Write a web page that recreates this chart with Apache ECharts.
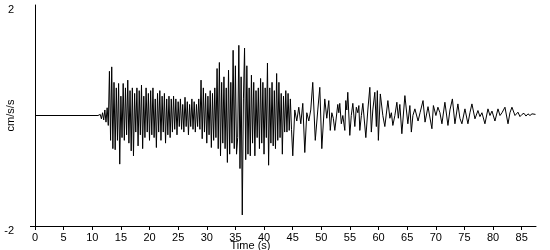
<!DOCTYPE html>
<html>
<head>
<meta charset="utf-8">
<script src="https://cdn.jsdelivr.net/npm/echarts@6/dist/echarts.min.js"></script>
<style>html,body{margin:0;padding:0;background:#fff}#c{width:550px;height:250px}</style>
</head>
<body>
<div id="c"></div>
<script>
// Axis tick labels
var xTicks = [0,5,10,15,20,25,30,35,40,45,50,55,60,65,70,75,80,85];
var yTicks = [-2, 2];

// Quiet pre-event part (time s, value cm/s/s)
var quietTimes = [0];
var quietValues = [0];

// Dense strong-motion part, sampled every 0.2 s from 11.0 s
var denseStart = 11.0;
var denseStep = 0.2;
var denseValues = [
  0, -0.03, 0.02, -0.06, 0.05, -0.08, 0.1, -0.12, 0.14, -0.18,
  0.8, -0.45, 0.88, -0.6, 0.6, -0.62, 0.5, -0.45, 0.58, -0.88,
  0.35, -0.4, 0.58, -0.45, 0.5, -0.35, 0.64, -0.5, 0.45, -0.64,
  0.5, -0.73, 0.4, -0.3, 0.5, -0.55, 0.45, -0.35, 0.55, -0.6,
  0.35, -0.4, 0.5, -0.3, 0.4, -0.45, 0.45, -0.35, 0.5, -0.4,
  0.3, -0.58, 0.4, -0.3, 0.45, -0.45, 0.35, -0.3, 0.4, -0.5,
  0.3, -0.35, 0.35, -0.4, 0.3, -0.3, 0.35, -0.25, 0.3, -0.35,
  0.25, -0.2, 0.3, -0.25, 0.2, -0.3, 0.33, -0.2, 0.25, -0.35,
  0.2, -0.2, 0.3, -0.25, 0.25, -0.3, 0.2, -0.2, 0.3, -0.25,
  0.64, -0.42, 0.5, -0.3, 0.4, -0.5, 0.35, -0.35, 0.45, -0.58,
  0.4, -0.45, 0.5, -0.4, 0.85, -0.6, 0.96, -0.73, 0.6, -0.5,
  0.7, -0.6, 0.5, -0.85, 0.82, -0.7, 0.6, -0.5, 1.18, -0.6,
  0.9, -0.7, -0.4, 1.27, -0.96, 0.7, -1.8, 0.3, 1.22, -0.8,
  0.9, -0.7, 0.5, -0.73, 0.73, -0.5, 0.6, -0.73, 0.45, -0.4,
  0.5, -0.6, 0.67, -0.5, 0.6, -0.7, 0.5, -0.4, 0.95, -0.9,
  0.5, -0.5, 0.6, -0.55, 0.45, -0.6, 0.76, -0.45, 0.6, -0.4,
  0.4, -0.7, 0.35, -0.3, 0.45, -0.3, 0.4, -0.27, 0.3, -0.25
];

// Coda part: peak times (s) and values (cm/s/s)
var codaTimes = [
  45.02, 45.37, 45.72, 46.07, 46.42, 46.77, 47.12, 47.47, 47.82, 48.16,
  48.51, 48.95, 49.39, 49.74, 50.09, 50.61, 50.96, 51.31, 51.57, 51.84,
  52.10, 52.36, 52.88, 53.06, 53.23, 53.50, 53.76, 54.11, 54.28, 54.46,
  54.63, 54.98, 55.24, 55.51, 55.86, 56.12, 56.38, 56.56, 56.73, 57.00,
  57.26, 57.78, 58.13, 58.48, 58.74, 59.00, 59.35, 59.62, 59.79, 59.97,
  60.31, 60.75, 61.10, 61.63, 61.98, 62.24, 62.50, 62.85, 63.20, 63.46,
  63.72, 64.07, 64.60, 65.12, 65.47, 65.73, 66.00, 66.35, 66.90, 67.25,
  67.77, 68.12, 68.64, 69.32, 69.58, 70.02, 70.37, 70.72, 71.07, 71.59,
  72.12, 72.47, 72.90, 73.34, 73.86, 74.21, 74.56, 75.09, 75.61, 75.96,
  76.31, 76.84, 77.36, 77.71, 78.06, 78.58, 79.11, 79.46, 79.81, 80.33,
  80.86, 81.21, 81.56, 82.08, 82.61, 82.95, 83.30, 83.83, 84.35, 84.70,
  85.05, 85.40, 85.75, 86.10, 86.45, 86.80, 87.41
];
var codaValues = [
  -0.73, 0.1, -0.1, 0.15, -0.15, 0.22, -0.67, 0.05, -0.1, 0.1,
  0.6, -0.45, 0.1, 0.51, -0.6, 0.3, -0.05, 0.27, -0.27, 0.05,
  -0.05, -0.27, 0.2, 0.05, 0.22, -0.15, 0.0, -0.27, 0.27, 0.1,
  0.42, -0.36, 0.0, 0.22, -0.2, 0.15, 0.05, 0.18, -0.27, 0.0,
  0.22, -0.4, 0.1, 0.51, -0.3, 0.1, 0.42, -0.2, 0.45, -0.45,
  0.39, 0.0, -0.2, 0.27, -0.05, 0.05, -0.18, 0.0, 0.24, -0.05,
  0.2, -0.33, 0.36, -0.15, 0.18, -0.3, 0.0, 0.12, -0.1, 0.05,
  0.27, -0.12, 0.16, -0.24, 0.18, 0.0, 0.15, 0.05, -0.15, 0.24,
  -0.18, 0.1, 0.3, -0.15, 0.21, -0.05, -0.15, 0.12, -0.15, 0.05,
  0.21, -0.06, 0.09, -0.02, 0.05, -0.15, 0.12, 0.0, 0.08, -0.1,
  0.12, 0.0, 0.05, 0.15, -0.15, 0.05, 0.15, 0.0, 0.06, -0.02,
  0.02, 0.04, -0.01, 0.03, 0.0, 0.03, 0.02
];

var seriesData = [];
quietTimes.forEach(function (t, i) { seriesData.push([t, quietValues[i]]); });
denseValues.forEach(function (v, i) { seriesData.push([+(denseStart + i * denseStep).toFixed(2), v]); });
codaTimes.forEach(function (t, i) { seriesData.push([t, codaValues[i]]); });

var font = 'Liberation Sans, Arial, sans-serif';
var chart = echarts.init(document.getElementById('c'), null, {renderer: 'canvas'});
chart.setOption({
  animation: false,
  backgroundColor: '#fff',
  grid: {left: 35, right: 14, top: 5, bottom: 24, containLabel: false, outerBoundsMode: 'none'},
  xAxis: {
    type: 'value', min: 0, max: 87.5,
    name: 'Time (s)', nameLocation: 'middle', nameGap: 14, nameMoveOverlap: false,
    nameTextStyle: {color: '#000', fontFamily: font, fontSize: 11, padding: [0, 70, 0, 0], verticalAlign: 'top'},
    axisLine: {onZero: false, lineStyle: {color: '#000', width: 1}},
    axisTick: {show: true, length: 4, lineStyle: {color: '#000'}, customValues: xTicks},
    axisLabel: {color: '#000', fontFamily: font, fontSize: 11, margin: 6, customValues: xTicks},
    splitLine: {show: false}
  },
  yAxis: {
    type: 'value', min: -2, max: 2,
    name: 'cm/s/s', nameLocation: 'middle', nameGap: 18.5, nameRotate: 90, nameMoveOverlap: false,
    nameTextStyle: {color: '#000', fontFamily: font, fontSize: 11},
    axisLine: {show: true, onZero: false, lineStyle: {color: '#000', width: 1}},
    axisTick: {show: true, length: 5, lineStyle: {color: '#000'}, customValues: [yTicks[0]]},
    axisLabel: {color: '#000', fontFamily: font, fontSize: 11, margin: 21, customValues: yTicks, verticalAlign: 'top', lineHeight: 9},
    splitLine: {show: false}
  },
  series: [{
    type: 'line', data: seriesData, showSymbol: false, symbol: 'none',
    lineStyle: {color: '#000', width: 1}, silent: true
  }]
});
</script>
</body>
</html>
